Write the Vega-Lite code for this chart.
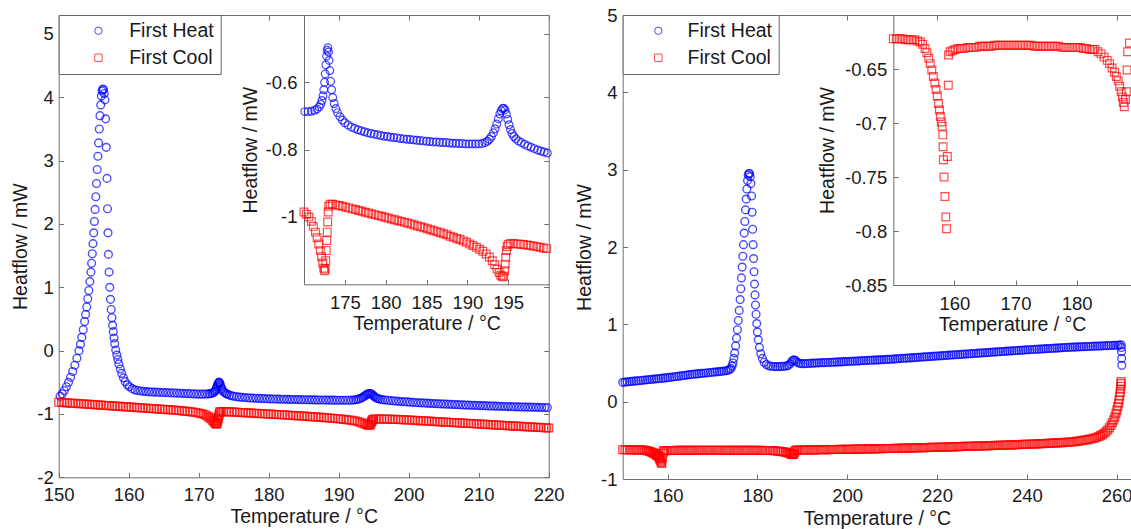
{
"$schema": "https://vega.github.io/schema/vega-lite/v6.json",
"width": 1131, "height": 529,
"autosize": {"type": "none"},
"padding": 0,
"background": "white",
"config": {
  "view": {"stroke": null},
  "font": "Liberation Sans",
  "axis": {"grid": false, "domainColor": "#707070", "tickColor": "#707070", "domainWidth": 1, "tickWidth": 1, "tickSize": -5,
    "labelFont": "Liberation Sans", "titleFont": "Liberation Sans", "labelFontSize": 18.5, "titleFontSize": 19.5, "titleFontWeight": "normal",
    "labelColor": "#1a1a1a", "titleColor": "#1a1a1a", "labelFlush": false, "labelOverlap": false, "labelBound": false}
},
"datasets": {
"left": [
{"t":150.2,"h":-0.72,"s":"Heat"},{"t":150.5,"h":-0.68,"s":"Heat"},{"t":150.8,"h":-0.63,"s":"Heat"},{"t":151.1,"h":-0.57,"s":"Heat"},{"t":151.4,"h":-0.5,"s":"Heat"},{"t":151.7,"h":-0.42,"s":"Heat"},{"t":152.0,"h":-0.33,"s":"Heat"},{"t":152.3,"h":-0.23,"s":"Heat"},{"t":152.6,"h":-0.12,"s":"Heat"},{"t":152.9,"h":0.0,"s":"Heat"},
{"t":153.1,"h":0.1,"s":"Heat"},{"t":153.3,"h":0.21,"s":"Heat"},{"t":153.5,"h":0.33,"s":"Heat"},{"t":153.7,"h":0.46,"s":"Heat"},{"t":153.85,"h":0.57,"s":"Heat"},{"t":154.0,"h":0.69,"s":"Heat"},{"t":154.15,"h":0.82,"s":"Heat"},{"t":154.3,"h":0.95,"s":"Heat"},{"t":154.45,"h":1.09,"s":"Heat"},{"t":154.6,"h":1.24,"s":"Heat"},
{"t":154.7,"h":1.38,"s":"Heat"},{"t":154.8,"h":1.53,"s":"Heat"},{"t":154.9,"h":1.69,"s":"Heat"},{"t":155.0,"h":1.86,"s":"Heat"},{"t":155.1,"h":2.04,"s":"Heat"},{"t":155.2,"h":2.23,"s":"Heat"},{"t":155.3,"h":2.43,"s":"Heat"},{"t":155.4,"h":2.64,"s":"Heat"},{"t":155.5,"h":2.86,"s":"Heat"},{"t":155.6,"h":3.07,"s":"Heat"},
{"t":155.7,"h":3.28,"s":"Heat"},{"t":155.8,"h":3.5,"s":"Heat"},{"t":155.9,"h":3.71,"s":"Heat"},{"t":156.0,"h":3.88,"s":"Heat"},{"t":156.1,"h":4.02,"s":"Heat"},{"t":156.2,"h":4.1,"s":"Heat"},{"t":156.3,"h":4.13,"s":"Heat"},{"t":156.4,"h":4.12,"s":"Heat"},{"t":156.5,"h":4.06,"s":"Heat"},{"t":156.6,"h":3.96,"s":"Heat"},
{"t":156.7,"h":3.66,"s":"Heat"},{"t":156.8,"h":3.21,"s":"Heat"},{"t":156.9,"h":2.72,"s":"Heat"},{"t":156.97,"h":2.24,"s":"Heat"},{"t":157.04,"h":1.86,"s":"Heat"},{"t":157.1,"h":1.52,"s":"Heat"},{"t":157.2,"h":1.24,"s":"Heat"},{"t":157.3,"h":1.0,"s":"Heat"},{"t":157.4,"h":0.81,"s":"Heat"},{"t":157.5,"h":0.65,"s":"Heat"},
{"t":157.6,"h":0.52,"s":"Heat"},{"t":157.7,"h":0.4,"s":"Heat"},{"t":157.8,"h":0.3,"s":"Heat"},{"t":157.9,"h":0.2,"s":"Heat"},{"t":158.0,"h":0.11,"s":"Heat"},{"t":158.15,"h":0.01,"s":"Heat"},{"t":158.3,"h":-0.07,"s":"Heat"},{"t":158.45,"h":-0.14,"s":"Heat"},{"t":158.6,"h":-0.21,"s":"Heat"},{"t":158.8,"h":-0.29,"s":"Heat"},
{"t":159.0,"h":-0.36,"s":"Heat"},{"t":159.25,"h":-0.43,"s":"Heat"},{"t":159.5,"h":-0.49,"s":"Heat"},{"t":159.8,"h":-0.54,"s":"Heat"},{"t":160.1,"h":-0.57,"s":"Heat"},{"t":160.5,"h":-0.6,"s":"Heat"},{"t":160.9,"h":-0.62,"s":"Heat"},{"t":161.3,"h":-0.63,"s":"Heat"},{"t":161.7,"h":-0.638,"s":"Heat"},{"t":162.1,"h":-0.643,"s":"Heat"},
{"t":162.5,"h":-0.647,"s":"Heat"},{"t":162.9,"h":-0.65,"s":"Heat"},{"t":163.3,"h":-0.653,"s":"Heat"},{"t":163.7,"h":-0.655,"s":"Heat"},{"t":164.1,"h":-0.657,"s":"Heat"},{"t":164.5,"h":-0.659,"s":"Heat"},{"t":164.9,"h":-0.661,"s":"Heat"},{"t":165.3,"h":-0.663,"s":"Heat"},{"t":165.7,"h":-0.665,"s":"Heat"},{"t":166.1,"h":-0.667,"s":"Heat"},
{"t":166.5,"h":-0.669,"s":"Heat"},{"t":166.9,"h":-0.671,"s":"Heat"},{"t":167.3,"h":-0.673,"s":"Heat"},{"t":167.7,"h":-0.675,"s":"Heat"},{"t":168.1,"h":-0.677,"s":"Heat"},{"t":168.5,"h":-0.679,"s":"Heat"},{"t":168.9,"h":-0.681,"s":"Heat"},{"t":169.3,"h":-0.683,"s":"Heat"},{"t":169.7,"h":-0.685,"s":"Heat"},{"t":170.1,"h":-0.687,"s":"Heat"},
{"t":170.5,"h":-0.687,"s":"Heat"},{"t":170.9,"h":-0.686,"s":"Heat"},{"t":171.3,"h":-0.683,"s":"Heat"},{"t":171.6,"h":-0.679,"s":"Heat"},{"t":171.85,"h":-0.673,"s":"Heat"},{"t":172.05,"h":-0.665,"s":"Heat"},{"t":172.2,"h":-0.654,"s":"Heat"},{"t":172.32,"h":-0.64,"s":"Heat"},{"t":172.42,"h":-0.622,"s":"Heat"},{"t":172.52,"h":-0.6,"s":"Heat"},
{"t":172.6,"h":-0.575,"s":"Heat"},{"t":172.68,"h":-0.548,"s":"Heat"},{"t":172.76,"h":-0.522,"s":"Heat"},{"t":172.84,"h":-0.505,"s":"Heat"},{"t":172.92,"h":-0.497,"s":"Heat"},{"t":173.0,"h":-0.51,"s":"Heat"},{"t":173.08,"h":-0.535,"s":"Heat"},{"t":173.16,"h":-0.565,"s":"Heat"},{"t":173.26,"h":-0.597,"s":"Heat"},{"t":173.38,"h":-0.622,"s":"Heat"},
{"t":173.52,"h":-0.645,"s":"Heat"},{"t":173.7,"h":-0.663,"s":"Heat"},{"t":173.9,"h":-0.678,"s":"Heat"},{"t":174.1,"h":-0.69,"s":"Heat"},{"t":174.4,"h":-0.702,"s":"Heat"},{"t":174.7,"h":-0.712,"s":"Heat"},{"t":175.0,"h":-0.72,"s":"Heat"},{"t":175.4,"h":-0.727,"s":"Heat"},{"t":175.8,"h":-0.733,"s":"Heat"},{"t":176.2,"h":-0.737,"s":"Heat"},
{"t":176.6,"h":-0.741,"s":"Heat"},{"t":177.0,"h":-0.744,"s":"Heat"},{"t":177.4,"h":-0.747,"s":"Heat"},{"t":177.8,"h":-0.75,"s":"Heat"},{"t":178.2,"h":-0.752,"s":"Heat"},{"t":178.6,"h":-0.754,"s":"Heat"},{"t":179.0,"h":-0.756,"s":"Heat"},{"t":179.4,"h":-0.758,"s":"Heat"},{"t":179.8,"h":-0.76,"s":"Heat"},{"t":180.2,"h":-0.761,"s":"Heat"},
{"t":180.6,"h":-0.763,"s":"Heat"},{"t":181.0,"h":-0.764,"s":"Heat"},{"t":181.4,"h":-0.765,"s":"Heat"},{"t":181.8,"h":-0.767,"s":"Heat"},{"t":182.2,"h":-0.768,"s":"Heat"},{"t":182.6,"h":-0.769,"s":"Heat"},{"t":183.0,"h":-0.77,"s":"Heat"},{"t":183.4,"h":-0.771,"s":"Heat"},{"t":183.8,"h":-0.772,"s":"Heat"},{"t":184.2,"h":-0.773,"s":"Heat"},
{"t":184.6,"h":-0.774,"s":"Heat"},{"t":185.0,"h":-0.775,"s":"Heat"},{"t":185.4,"h":-0.776,"s":"Heat"},{"t":185.8,"h":-0.777,"s":"Heat"},{"t":186.2,"h":-0.777,"s":"Heat"},{"t":186.6,"h":-0.778,"s":"Heat"},{"t":187.0,"h":-0.779,"s":"Heat"},{"t":187.4,"h":-0.779,"s":"Heat"},{"t":187.8,"h":-0.78,"s":"Heat"},{"t":188.2,"h":-0.781,"s":"Heat"},
{"t":188.6,"h":-0.781,"s":"Heat"},{"t":189.0,"h":-0.782,"s":"Heat"},{"t":189.4,"h":-0.782,"s":"Heat"},{"t":189.8,"h":-0.783,"s":"Heat"},{"t":190.2,"h":-0.783,"s":"Heat"},{"t":190.6,"h":-0.783,"s":"Heat"},{"t":191.0,"h":-0.783,"s":"Heat"},{"t":191.4,"h":-0.783,"s":"Heat"},{"t":191.8,"h":-0.782,"s":"Heat"},{"t":192.15,"h":-0.779,"s":"Heat"},
{"t":192.45,"h":-0.775,"s":"Heat"},{"t":192.7,"h":-0.769,"s":"Heat"},{"t":192.95,"h":-0.761,"s":"Heat"},{"t":193.2,"h":-0.75,"s":"Heat"},{"t":193.4,"h":-0.738,"s":"Heat"},{"t":193.6,"h":-0.724,"s":"Heat"},{"t":193.8,"h":-0.708,"s":"Heat"},{"t":193.98,"h":-0.694,"s":"Heat"},{"t":194.14,"h":-0.684,"s":"Heat"},{"t":194.3,"h":-0.678,"s":"Heat"},
{"t":194.46,"h":-0.677,"s":"Heat"},{"t":194.62,"h":-0.682,"s":"Heat"},{"t":194.78,"h":-0.694,"s":"Heat"},{"t":194.94,"h":-0.71,"s":"Heat"},{"t":195.1,"h":-0.726,"s":"Heat"},{"t":195.28,"h":-0.74,"s":"Heat"},{"t":195.48,"h":-0.752,"s":"Heat"},{"t":195.7,"h":-0.761,"s":"Heat"},{"t":195.95,"h":-0.768,"s":"Heat"},{"t":196.25,"h":-0.774,"s":"Heat"},
{"t":196.6,"h":-0.779,"s":"Heat"},{"t":197.0,"h":-0.784,"s":"Heat"},{"t":197.4,"h":-0.789,"s":"Heat"},{"t":197.8,"h":-0.793,"s":"Heat"},{"t":198.2,"h":-0.797,"s":"Heat"},{"t":198.6,"h":-0.801,"s":"Heat"},{"t":199.0,"h":-0.804,"s":"Heat"},{"t":199.4,"h":-0.807,"s":"Heat"},{"t":199.8,"h":-0.81,"s":"Heat"},{"t":200.2,"h":-0.813,"s":"Heat"},
{"t":200.6,"h":-0.816,"s":"Heat"},{"t":201.0,"h":-0.819,"s":"Heat"},{"t":201.4,"h":-0.822,"s":"Heat"},{"t":201.8,"h":-0.824,"s":"Heat"},{"t":202.2,"h":-0.827,"s":"Heat"},{"t":202.6,"h":-0.829,"s":"Heat"},{"t":203.0,"h":-0.832,"s":"Heat"},{"t":203.4,"h":-0.834,"s":"Heat"},{"t":203.8,"h":-0.836,"s":"Heat"},{"t":204.2,"h":-0.838,"s":"Heat"},
{"t":204.6,"h":-0.841,"s":"Heat"},{"t":205.0,"h":-0.843,"s":"Heat"},{"t":205.4,"h":-0.845,"s":"Heat"},{"t":205.8,"h":-0.847,"s":"Heat"},{"t":206.2,"h":-0.849,"s":"Heat"},{"t":206.6,"h":-0.851,"s":"Heat"},{"t":207.0,"h":-0.853,"s":"Heat"},{"t":207.4,"h":-0.855,"s":"Heat"},{"t":207.8,"h":-0.857,"s":"Heat"},{"t":208.2,"h":-0.859,"s":"Heat"},
{"t":208.6,"h":-0.861,"s":"Heat"},{"t":209.0,"h":-0.862,"s":"Heat"},{"t":209.4,"h":-0.864,"s":"Heat"},{"t":209.8,"h":-0.866,"s":"Heat"},{"t":210.2,"h":-0.868,"s":"Heat"},{"t":210.6,"h":-0.869,"s":"Heat"},{"t":211.0,"h":-0.871,"s":"Heat"},{"t":211.4,"h":-0.873,"s":"Heat"},{"t":211.8,"h":-0.874,"s":"Heat"},{"t":212.2,"h":-0.876,"s":"Heat"},
{"t":212.6,"h":-0.877,"s":"Heat"},{"t":213.0,"h":-0.879,"s":"Heat"},{"t":213.4,"h":-0.88,"s":"Heat"},{"t":213.8,"h":-0.882,"s":"Heat"},{"t":214.2,"h":-0.883,"s":"Heat"},{"t":214.6,"h":-0.885,"s":"Heat"},{"t":215.0,"h":-0.886,"s":"Heat"},{"t":215.4,"h":-0.887,"s":"Heat"},{"t":215.8,"h":-0.889,"s":"Heat"},{"t":216.2,"h":-0.89,"s":"Heat"},
{"t":216.6,"h":-0.891,"s":"Heat"},{"t":217.0,"h":-0.892,"s":"Heat"},{"t":217.4,"h":-0.893,"s":"Heat"},{"t":217.8,"h":-0.894,"s":"Heat"},{"t":218.2,"h":-0.895,"s":"Heat"},{"t":218.6,"h":-0.896,"s":"Heat"},{"t":219.0,"h":-0.897,"s":"Heat"},{"t":219.4,"h":-0.898,"s":"Heat"},{"t":219.8,"h":-0.899,"s":"Heat"},
{"t":150.0,"h":-0.815,"s":"Cool"},{"t":150.4,"h":-0.818,"s":"Cool"},{"t":150.8,"h":-0.821,"s":"Cool"},{"t":151.2,"h":-0.824,"s":"Cool"},{"t":151.6,"h":-0.827,"s":"Cool"},{"t":152.0,"h":-0.83,"s":"Cool"},{"t":152.4,"h":-0.833,"s":"Cool"},{"t":152.8,"h":-0.836,"s":"Cool"},{"t":153.2,"h":-0.839,"s":"Cool"},{"t":153.6,"h":-0.842,"s":"Cool"},
{"t":154.0,"h":-0.845,"s":"Cool"},{"t":154.4,"h":-0.848,"s":"Cool"},{"t":154.8,"h":-0.851,"s":"Cool"},{"t":155.2,"h":-0.854,"s":"Cool"},{"t":155.6,"h":-0.857,"s":"Cool"},{"t":156.0,"h":-0.86,"s":"Cool"},{"t":156.4,"h":-0.863,"s":"Cool"},{"t":156.8,"h":-0.866,"s":"Cool"},{"t":157.2,"h":-0.869,"s":"Cool"},{"t":157.6,"h":-0.872,"s":"Cool"},
{"t":158.0,"h":-0.875,"s":"Cool"},{"t":158.4,"h":-0.878,"s":"Cool"},{"t":158.8,"h":-0.881,"s":"Cool"},{"t":159.2,"h":-0.884,"s":"Cool"},{"t":159.6,"h":-0.887,"s":"Cool"},{"t":160.0,"h":-0.89,"s":"Cool"},{"t":160.4,"h":-0.893,"s":"Cool"},{"t":160.8,"h":-0.896,"s":"Cool"},{"t":161.2,"h":-0.899,"s":"Cool"},{"t":161.6,"h":-0.902,"s":"Cool"},
{"t":162.0,"h":-0.905,"s":"Cool"},{"t":162.4,"h":-0.908,"s":"Cool"},{"t":162.8,"h":-0.911,"s":"Cool"},{"t":163.2,"h":-0.914,"s":"Cool"},{"t":163.6,"h":-0.917,"s":"Cool"},{"t":164.0,"h":-0.92,"s":"Cool"},{"t":164.4,"h":-0.923,"s":"Cool"},{"t":164.8,"h":-0.926,"s":"Cool"},{"t":165.2,"h":-0.929,"s":"Cool"},{"t":165.6,"h":-0.932,"s":"Cool"},
{"t":166.0,"h":-0.935,"s":"Cool"},{"t":166.4,"h":-0.938,"s":"Cool"},{"t":166.8,"h":-0.942,"s":"Cool"},{"t":167.2,"h":-0.946,"s":"Cool"},{"t":167.6,"h":-0.95,"s":"Cool"},{"t":168.0,"h":-0.954,"s":"Cool"},{"t":168.4,"h":-0.959,"s":"Cool"},{"t":168.8,"h":-0.964,"s":"Cool"},{"t":169.2,"h":-0.97,"s":"Cool"},{"t":169.6,"h":-0.977,"s":"Cool"},
{"t":170.0,"h":-0.985,"s":"Cool"},{"t":170.3,"h":-0.992,"s":"Cool"},{"t":170.6,"h":-1.0,"s":"Cool"},{"t":170.9,"h":-1.013,"s":"Cool"},{"t":171.15,"h":-1.028,"s":"Cool"},{"t":171.4,"h":-1.045,"s":"Cool"},{"t":171.6,"h":-1.062,"s":"Cool"},{"t":171.8,"h":-1.08,"s":"Cool"},{"t":172.0,"h":-1.1,"s":"Cool"},{"t":172.15,"h":-1.118,"s":"Cool"},
{"t":172.3,"h":-1.137,"s":"Cool"},{"t":172.42,"h":-1.152,"s":"Cool"},{"t":172.52,"h":-1.16,"s":"Cool"},{"t":172.6,"h":-1.155,"s":"Cool"},{"t":172.66,"h":-1.13,"s":"Cool"},{"t":172.72,"h":-1.1,"s":"Cool"},{"t":172.78,"h":-1.07,"s":"Cool"},{"t":172.84,"h":-1.045,"s":"Cool"},{"t":172.9,"h":-1.015,"s":"Cool"},{"t":172.96,"h":-0.985,"s":"Cool"},
{"t":173.02,"h":-0.968,"s":"Cool"},{"t":173.2,"h":-0.962,"s":"Cool"},{"t":173.5,"h":-0.962,"s":"Cool"},{"t":173.9,"h":-0.964,"s":"Cool"},{"t":174.3,"h":-0.966,"s":"Cool"},{"t":174.7,"h":-0.968,"s":"Cool"},{"t":175.1,"h":-0.971,"s":"Cool"},{"t":175.5,"h":-0.973,"s":"Cool"},{"t":175.9,"h":-0.976,"s":"Cool"},{"t":176.3,"h":-0.978,"s":"Cool"},
{"t":176.7,"h":-0.981,"s":"Cool"},{"t":177.1,"h":-0.983,"s":"Cool"},{"t":177.5,"h":-0.986,"s":"Cool"},{"t":177.9,"h":-0.988,"s":"Cool"},{"t":178.3,"h":-0.991,"s":"Cool"},{"t":178.7,"h":-0.993,"s":"Cool"},{"t":179.1,"h":-0.996,"s":"Cool"},{"t":179.5,"h":-0.998,"s":"Cool"},{"t":179.9,"h":-1.001,"s":"Cool"},{"t":180.3,"h":-1.003,"s":"Cool"},
{"t":180.7,"h":-1.006,"s":"Cool"},{"t":181.1,"h":-1.008,"s":"Cool"},{"t":181.5,"h":-1.011,"s":"Cool"},{"t":181.9,"h":-1.013,"s":"Cool"},{"t":182.3,"h":-1.016,"s":"Cool"},{"t":182.7,"h":-1.018,"s":"Cool"},{"t":183.1,"h":-1.021,"s":"Cool"},{"t":183.5,"h":-1.024,"s":"Cool"},{"t":183.9,"h":-1.027,"s":"Cool"},{"t":184.3,"h":-1.029,"s":"Cool"},
{"t":184.7,"h":-1.032,"s":"Cool"},{"t":185.1,"h":-1.035,"s":"Cool"},{"t":185.5,"h":-1.038,"s":"Cool"},{"t":185.9,"h":-1.041,"s":"Cool"},{"t":186.3,"h":-1.044,"s":"Cool"},{"t":186.7,"h":-1.047,"s":"Cool"},{"t":187.1,"h":-1.05,"s":"Cool"},{"t":187.5,"h":-1.053,"s":"Cool"},{"t":187.9,"h":-1.057,"s":"Cool"},{"t":188.3,"h":-1.06,"s":"Cool"},
{"t":188.7,"h":-1.064,"s":"Cool"},{"t":189.1,"h":-1.067,"s":"Cool"},{"t":189.5,"h":-1.071,"s":"Cool"},{"t":189.9,"h":-1.075,"s":"Cool"},{"t":190.3,"h":-1.08,"s":"Cool"},{"t":190.7,"h":-1.085,"s":"Cool"},{"t":191.1,"h":-1.09,"s":"Cool"},{"t":191.5,"h":-1.096,"s":"Cool"},{"t":191.9,"h":-1.102,"s":"Cool"},{"t":192.3,"h":-1.11,"s":"Cool"},
{"t":192.7,"h":-1.119,"s":"Cool"},{"t":193.05,"h":-1.13,"s":"Cool"},{"t":193.35,"h":-1.142,"s":"Cool"},{"t":193.65,"h":-1.155,"s":"Cool"},{"t":193.9,"h":-1.165,"s":"Cool"},{"t":194.1,"h":-1.173,"s":"Cool"},{"t":194.3,"h":-1.178,"s":"Cool"},{"t":194.45,"h":-1.176,"s":"Cool"},{"t":194.55,"h":-1.16,"s":"Cool"},{"t":194.63,"h":-1.14,"s":"Cool"},
{"t":194.7,"h":-1.12,"s":"Cool"},{"t":194.78,"h":-1.1,"s":"Cool"},{"t":194.88,"h":-1.088,"s":"Cool"},{"t":195.0,"h":-1.082,"s":"Cool"},{"t":195.3,"h":-1.079,"s":"Cool"},{"t":195.7,"h":-1.079,"s":"Cool"},{"t":196.1,"h":-1.08,"s":"Cool"},{"t":196.5,"h":-1.081,"s":"Cool"},{"t":196.9,"h":-1.082,"s":"Cool"},{"t":197.3,"h":-1.083,"s":"Cool"},
{"t":197.7,"h":-1.085,"s":"Cool"},{"t":198.1,"h":-1.086,"s":"Cool"},{"t":198.5,"h":-1.088,"s":"Cool"},{"t":198.9,"h":-1.09,"s":"Cool"},{"t":199.3,"h":-1.092,"s":"Cool"},{"t":199.7,"h":-1.094,"s":"Cool"},{"t":200.1,"h":-1.096,"s":"Cool"},{"t":200.5,"h":-1.099,"s":"Cool"},{"t":200.9,"h":-1.101,"s":"Cool"},{"t":201.3,"h":-1.104,"s":"Cool"},
{"t":201.7,"h":-1.106,"s":"Cool"},{"t":202.1,"h":-1.109,"s":"Cool"},{"t":202.5,"h":-1.111,"s":"Cool"},{"t":202.9,"h":-1.114,"s":"Cool"},{"t":203.3,"h":-1.116,"s":"Cool"},{"t":203.7,"h":-1.119,"s":"Cool"},{"t":204.1,"h":-1.121,"s":"Cool"},{"t":204.5,"h":-1.124,"s":"Cool"},{"t":204.9,"h":-1.126,"s":"Cool"},{"t":205.3,"h":-1.129,"s":"Cool"},
{"t":205.7,"h":-1.131,"s":"Cool"},{"t":206.1,"h":-1.134,"s":"Cool"},{"t":206.5,"h":-1.136,"s":"Cool"},{"t":206.9,"h":-1.139,"s":"Cool"},{"t":207.3,"h":-1.141,"s":"Cool"},{"t":207.7,"h":-1.144,"s":"Cool"},{"t":208.1,"h":-1.146,"s":"Cool"},{"t":208.5,"h":-1.149,"s":"Cool"},{"t":208.9,"h":-1.151,"s":"Cool"},{"t":209.3,"h":-1.154,"s":"Cool"},
{"t":209.7,"h":-1.156,"s":"Cool"},{"t":210.1,"h":-1.159,"s":"Cool"},{"t":210.5,"h":-1.161,"s":"Cool"},{"t":210.9,"h":-1.164,"s":"Cool"},{"t":211.3,"h":-1.167,"s":"Cool"},{"t":211.7,"h":-1.169,"s":"Cool"},{"t":212.1,"h":-1.172,"s":"Cool"},{"t":212.5,"h":-1.174,"s":"Cool"},{"t":212.9,"h":-1.177,"s":"Cool"},{"t":213.3,"h":-1.179,"s":"Cool"},
{"t":213.7,"h":-1.182,"s":"Cool"},{"t":214.1,"h":-1.184,"s":"Cool"},{"t":214.5,"h":-1.187,"s":"Cool"},{"t":214.9,"h":-1.189,"s":"Cool"},{"t":215.3,"h":-1.192,"s":"Cool"},{"t":215.7,"h":-1.194,"s":"Cool"},{"t":216.1,"h":-1.197,"s":"Cool"},{"t":216.5,"h":-1.199,"s":"Cool"},{"t":216.9,"h":-1.202,"s":"Cool"},{"t":217.3,"h":-1.204,"s":"Cool"},
{"t":217.7,"h":-1.207,"s":"Cool"},{"t":218.1,"h":-1.209,"s":"Cool"},{"t":218.5,"h":-1.212,"s":"Cool"},{"t":218.9,"h":-1.214,"s":"Cool"},{"t":219.3,"h":-1.217,"s":"Cool"},{"t":219.7,"h":-1.219,"s":"Cool"},{"t":220.0,"h":-1.221,"s":"Cool"}
],
"right": [
{"t":150.0,"h":0.25,"s":"Heat"},{"t":150.5,"h":0.253,"s":"Heat"},{"t":151.0,"h":0.256,"s":"Heat"},{"t":151.5,"h":0.259,"s":"Heat"},{"t":152.0,"h":0.262,"s":"Heat"},{"t":152.5,"h":0.265,"s":"Heat"},{"t":153.0,"h":0.268,"s":"Heat"},{"t":153.5,"h":0.271,"s":"Heat"},{"t":154.0,"h":0.274,"s":"Heat"},{"t":154.5,"h":0.277,"s":"Heat"},
{"t":155.0,"h":0.28,"s":"Heat"},{"t":155.5,"h":0.283,"s":"Heat"},{"t":156.0,"h":0.286,"s":"Heat"},{"t":156.5,"h":0.289,"s":"Heat"},{"t":157.0,"h":0.292,"s":"Heat"},{"t":157.5,"h":0.295,"s":"Heat"},{"t":158.0,"h":0.298,"s":"Heat"},{"t":158.5,"h":0.301,"s":"Heat"},{"t":159.0,"h":0.304,"s":"Heat"},{"t":159.5,"h":0.307,"s":"Heat"},
{"t":160.0,"h":0.31,"s":"Heat"},{"t":160.5,"h":0.314,"s":"Heat"},{"t":161.0,"h":0.318,"s":"Heat"},{"t":161.5,"h":0.322,"s":"Heat"},{"t":162.0,"h":0.326,"s":"Heat"},{"t":162.5,"h":0.33,"s":"Heat"},{"t":163.0,"h":0.334,"s":"Heat"},{"t":163.5,"h":0.338,"s":"Heat"},{"t":164.0,"h":0.342,"s":"Heat"},{"t":164.5,"h":0.346,"s":"Heat"},
{"t":165.0,"h":0.35,"s":"Heat"},{"t":165.5,"h":0.353,"s":"Heat"},{"t":166.0,"h":0.356,"s":"Heat"},{"t":166.5,"h":0.359,"s":"Heat"},{"t":167.0,"h":0.362,"s":"Heat"},{"t":167.5,"h":0.365,"s":"Heat"},{"t":168.0,"h":0.368,"s":"Heat"},{"t":168.5,"h":0.371,"s":"Heat"},{"t":169.0,"h":0.374,"s":"Heat"},{"t":169.5,"h":0.377,"s":"Heat"},
{"t":170.0,"h":0.38,"s":"Heat"},{"t":170.5,"h":0.383,"s":"Heat"},{"t":171.0,"h":0.386,"s":"Heat"},{"t":171.5,"h":0.389,"s":"Heat"},{"t":172.0,"h":0.392,"s":"Heat"},{"t":172.5,"h":0.396,"s":"Heat"},{"t":173.0,"h":0.4,"s":"Heat"},{"t":173.4,"h":0.405,"s":"Heat"},{"t":173.8,"h":0.415,"s":"Heat"},{"t":174.1,"h":0.43,"s":"Heat"},
{"t":174.35,"h":0.46,"s":"Heat"},{"t":174.55,"h":0.5,"s":"Heat"},{"t":174.75,"h":0.56,"s":"Heat"},{"t":174.95,"h":0.63,"s":"Heat"},{"t":175.15,"h":0.72,"s":"Heat"},{"t":175.35,"h":0.82,"s":"Heat"},{"t":175.55,"h":0.93,"s":"Heat"},{"t":175.75,"h":1.05,"s":"Heat"},{"t":175.95,"h":1.18,"s":"Heat"},{"t":176.15,"h":1.32,"s":"Heat"},
{"t":176.3,"h":1.46,"s":"Heat"},{"t":176.45,"h":1.6,"s":"Heat"},{"t":176.6,"h":1.74,"s":"Heat"},{"t":176.75,"h":1.88,"s":"Heat"},{"t":176.9,"h":2.03,"s":"Heat"},{"t":177.05,"h":2.18,"s":"Heat"},{"t":177.2,"h":2.33,"s":"Heat"},{"t":177.35,"h":2.48,"s":"Heat"},{"t":177.5,"h":2.62,"s":"Heat"},{"t":177.65,"h":2.75,"s":"Heat"},
{"t":177.8,"h":2.86,"s":"Heat"},{"t":177.95,"h":2.93,"s":"Heat"},{"t":178.1,"h":2.95,"s":"Heat"},{"t":178.25,"h":2.95,"s":"Heat"},{"t":178.4,"h":2.91,"s":"Heat"},{"t":178.55,"h":2.82,"s":"Heat"},{"t":178.7,"h":2.66,"s":"Heat"},{"t":178.82,"h":2.45,"s":"Heat"},{"t":178.94,"h":2.23,"s":"Heat"},{"t":179.05,"h":2.03,"s":"Heat"},
{"t":179.15,"h":1.85,"s":"Heat"},{"t":179.25,"h":1.68,"s":"Heat"},{"t":179.35,"h":1.52,"s":"Heat"},{"t":179.45,"h":1.38,"s":"Heat"},{"t":179.57,"h":1.25,"s":"Heat"},{"t":179.7,"h":1.13,"s":"Heat"},{"t":179.85,"h":1.01,"s":"Heat"},{"t":180.0,"h":0.9,"s":"Heat"},{"t":180.2,"h":0.8,"s":"Heat"},{"t":180.45,"h":0.7,"s":"Heat"},
{"t":180.75,"h":0.62,"s":"Heat"},{"t":181.1,"h":0.56,"s":"Heat"},{"t":181.5,"h":0.51,"s":"Heat"},{"t":182.0,"h":0.48,"s":"Heat"},{"t":182.5,"h":0.465,"s":"Heat"},{"t":183.0,"h":0.458,"s":"Heat"},{"t":183.5,"h":0.455,"s":"Heat"},{"t":184.0,"h":0.453,"s":"Heat"},{"t":184.5,"h":0.453,"s":"Heat"},{"t":185.0,"h":0.454,"s":"Heat"},
{"t":185.5,"h":0.456,"s":"Heat"},{"t":186.0,"h":0.458,"s":"Heat"},{"t":186.5,"h":0.462,"s":"Heat"},{"t":186.9,"h":0.47,"s":"Heat"},{"t":187.3,"h":0.49,"s":"Heat"},{"t":187.6,"h":0.515,"s":"Heat"},{"t":187.9,"h":0.535,"s":"Heat"},{"t":188.2,"h":0.54,"s":"Heat"},{"t":188.5,"h":0.53,"s":"Heat"},{"t":188.8,"h":0.512,"s":"Heat"},
{"t":189.2,"h":0.498,"s":"Heat"},{"t":189.7,"h":0.492,"s":"Heat"},{"t":190.2,"h":0.491,"s":"Heat"},{"t":190.7,"h":0.492,"s":"Heat"},{"t":191.2,"h":0.494,"s":"Heat"},{"t":191.7,"h":0.496,"s":"Heat"},{"t":192.2,"h":0.498,"s":"Heat"},{"t":192.7,"h":0.499,"s":"Heat"},{"t":193.2,"h":0.5,"s":"Heat"},{"t":193.7,"h":0.502,"s":"Heat"},
{"t":194.2,"h":0.503,"s":"Heat"},{"t":194.7,"h":0.504,"s":"Heat"},{"t":195.2,"h":0.506,"s":"Heat"},{"t":195.7,"h":0.507,"s":"Heat"},{"t":196.2,"h":0.508,"s":"Heat"},{"t":196.7,"h":0.51,"s":"Heat"},{"t":197.2,"h":0.511,"s":"Heat"},{"t":197.7,"h":0.513,"s":"Heat"},{"t":198.2,"h":0.514,"s":"Heat"},{"t":198.7,"h":0.515,"s":"Heat"},
{"t":199.2,"h":0.517,"s":"Heat"},{"t":199.7,"h":0.518,"s":"Heat"},{"t":200.2,"h":0.52,"s":"Heat"},{"t":200.7,"h":0.522,"s":"Heat"},{"t":201.2,"h":0.523,"s":"Heat"},{"t":201.7,"h":0.525,"s":"Heat"},{"t":202.2,"h":0.526,"s":"Heat"},{"t":202.7,"h":0.528,"s":"Heat"},{"t":203.2,"h":0.529,"s":"Heat"},{"t":203.7,"h":0.531,"s":"Heat"},
{"t":204.2,"h":0.532,"s":"Heat"},{"t":204.7,"h":0.534,"s":"Heat"},{"t":205.2,"h":0.535,"s":"Heat"},{"t":205.7,"h":0.537,"s":"Heat"},{"t":206.2,"h":0.538,"s":"Heat"},{"t":206.7,"h":0.54,"s":"Heat"},{"t":207.2,"h":0.541,"s":"Heat"},{"t":207.7,"h":0.543,"s":"Heat"},{"t":208.2,"h":0.544,"s":"Heat"},{"t":208.7,"h":0.546,"s":"Heat"},
{"t":209.2,"h":0.547,"s":"Heat"},{"t":209.7,"h":0.549,"s":"Heat"},{"t":210.2,"h":0.551,"s":"Heat"},{"t":210.7,"h":0.553,"s":"Heat"},{"t":211.2,"h":0.555,"s":"Heat"},{"t":211.7,"h":0.557,"s":"Heat"},{"t":212.2,"h":0.559,"s":"Heat"},{"t":212.7,"h":0.561,"s":"Heat"},{"t":213.2,"h":0.563,"s":"Heat"},{"t":213.7,"h":0.565,"s":"Heat"},
{"t":214.2,"h":0.567,"s":"Heat"},{"t":214.7,"h":0.569,"s":"Heat"},{"t":215.2,"h":0.571,"s":"Heat"},{"t":215.7,"h":0.573,"s":"Heat"},{"t":216.2,"h":0.575,"s":"Heat"},{"t":216.7,"h":0.577,"s":"Heat"},{"t":217.2,"h":0.579,"s":"Heat"},{"t":217.7,"h":0.581,"s":"Heat"},{"t":218.2,"h":0.583,"s":"Heat"},{"t":218.7,"h":0.585,"s":"Heat"},
{"t":219.2,"h":0.587,"s":"Heat"},{"t":219.7,"h":0.589,"s":"Heat"},{"t":220.2,"h":0.591,"s":"Heat"},{"t":220.7,"h":0.593,"s":"Heat"},{"t":221.2,"h":0.595,"s":"Heat"},{"t":221.7,"h":0.597,"s":"Heat"},{"t":222.2,"h":0.599,"s":"Heat"},{"t":222.7,"h":0.601,"s":"Heat"},{"t":223.2,"h":0.603,"s":"Heat"},{"t":223.7,"h":0.605,"s":"Heat"},
{"t":224.2,"h":0.607,"s":"Heat"},{"t":224.7,"h":0.609,"s":"Heat"},{"t":225.2,"h":0.611,"s":"Heat"},{"t":225.7,"h":0.613,"s":"Heat"},{"t":226.2,"h":0.615,"s":"Heat"},{"t":226.7,"h":0.617,"s":"Heat"},{"t":227.2,"h":0.619,"s":"Heat"},{"t":227.7,"h":0.621,"s":"Heat"},{"t":228.2,"h":0.623,"s":"Heat"},{"t":228.7,"h":0.625,"s":"Heat"},
{"t":229.2,"h":0.627,"s":"Heat"},{"t":229.7,"h":0.629,"s":"Heat"},{"t":230.2,"h":0.631,"s":"Heat"},{"t":230.7,"h":0.633,"s":"Heat"},{"t":231.2,"h":0.635,"s":"Heat"},{"t":231.7,"h":0.637,"s":"Heat"},{"t":232.2,"h":0.639,"s":"Heat"},{"t":232.7,"h":0.641,"s":"Heat"},{"t":233.2,"h":0.643,"s":"Heat"},{"t":233.7,"h":0.645,"s":"Heat"},
{"t":234.2,"h":0.647,"s":"Heat"},{"t":234.7,"h":0.649,"s":"Heat"},{"t":235.2,"h":0.651,"s":"Heat"},{"t":235.7,"h":0.653,"s":"Heat"},{"t":236.2,"h":0.655,"s":"Heat"},{"t":236.7,"h":0.657,"s":"Heat"},{"t":237.2,"h":0.659,"s":"Heat"},{"t":237.7,"h":0.661,"s":"Heat"},{"t":238.2,"h":0.663,"s":"Heat"},{"t":238.7,"h":0.665,"s":"Heat"},
{"t":239.2,"h":0.667,"s":"Heat"},{"t":239.7,"h":0.669,"s":"Heat"},{"t":240.2,"h":0.671,"s":"Heat"},{"t":240.7,"h":0.672,"s":"Heat"},{"t":241.2,"h":0.674,"s":"Heat"},{"t":241.7,"h":0.676,"s":"Heat"},{"t":242.2,"h":0.678,"s":"Heat"},{"t":242.7,"h":0.679,"s":"Heat"},{"t":243.2,"h":0.681,"s":"Heat"},{"t":243.7,"h":0.683,"s":"Heat"},
{"t":244.2,"h":0.685,"s":"Heat"},{"t":244.7,"h":0.686,"s":"Heat"},{"t":245.2,"h":0.688,"s":"Heat"},{"t":245.7,"h":0.69,"s":"Heat"},{"t":246.2,"h":0.692,"s":"Heat"},{"t":246.7,"h":0.693,"s":"Heat"},{"t":247.2,"h":0.695,"s":"Heat"},{"t":247.7,"h":0.697,"s":"Heat"},{"t":248.2,"h":0.699,"s":"Heat"},{"t":248.7,"h":0.7,"s":"Heat"},
{"t":249.2,"h":0.702,"s":"Heat"},{"t":249.7,"h":0.704,"s":"Heat"},{"t":250.2,"h":0.705,"s":"Heat"},{"t":250.7,"h":0.706,"s":"Heat"},{"t":251.2,"h":0.708,"s":"Heat"},{"t":251.7,"h":0.709,"s":"Heat"},{"t":252.2,"h":0.71,"s":"Heat"},{"t":252.7,"h":0.711,"s":"Heat"},{"t":253.2,"h":0.713,"s":"Heat"},{"t":253.7,"h":0.714,"s":"Heat"},
{"t":254.2,"h":0.715,"s":"Heat"},{"t":254.7,"h":0.716,"s":"Heat"},{"t":255.2,"h":0.718,"s":"Heat"},{"t":255.7,"h":0.719,"s":"Heat"},{"t":256.2,"h":0.72,"s":"Heat"},{"t":256.7,"h":0.721,"s":"Heat"},{"t":257.2,"h":0.723,"s":"Heat"},{"t":257.7,"h":0.724,"s":"Heat"},{"t":258.2,"h":0.725,"s":"Heat"},{"t":258.7,"h":0.726,"s":"Heat"},
{"t":259.2,"h":0.728,"s":"Heat"},{"t":259.7,"h":0.729,"s":"Heat"},{"t":260.2,"h":0.73,"s":"Heat"},{"t":260.6,"h":0.732,"s":"Heat"},{"t":261.0,"h":0.735,"s":"Heat"},{"t":261.05,"h":0.7,"s":"Heat"},{"t":261.1,"h":0.645,"s":"Heat"},{"t":261.12,"h":0.56,"s":"Heat"},{"t":261.15,"h":0.47,"s":"Heat"},
{"t":150.0,"h":-0.622,"s":"Cool"},{"t":150.5,"h":-0.622,"s":"Cool"},{"t":151.0,"h":-0.622,"s":"Cool"},{"t":151.5,"h":-0.622,"s":"Cool"},{"t":152.0,"h":-0.623,"s":"Cool"},{"t":152.5,"h":-0.623,"s":"Cool"},{"t":153.0,"h":-0.623,"s":"Cool"},{"t":153.5,"h":-0.623,"s":"Cool"},{"t":154.0,"h":-0.624,"s":"Cool"},{"t":154.4,"h":-0.625,"s":"Cool"},
{"t":154.8,"h":-0.627,"s":"Cool"},{"t":155.2,"h":-0.631,"s":"Cool"},{"t":155.5,"h":-0.635,"s":"Cool"},{"t":155.8,"h":-0.64,"s":"Cool"},{"t":156.05,"h":-0.645,"s":"Cool"},{"t":156.3,"h":-0.651,"s":"Cool"},{"t":156.55,"h":-0.657,"s":"Cool"},{"t":156.8,"h":-0.663,"s":"Cool"},{"t":157.0,"h":-0.669,"s":"Cool"},{"t":157.2,"h":-0.675,"s":"Cool"},
{"t":157.4,"h":-0.682,"s":"Cool"},{"t":157.55,"h":-0.688,"s":"Cool"},{"t":157.7,"h":-0.694,"s":"Cool"},{"t":157.85,"h":-0.699,"s":"Cool"},{"t":158.0,"h":-0.703,"s":"Cool"},{"t":158.1,"h":-0.711,"s":"Cool"},{"t":158.15,"h":-0.722,"s":"Cool"},{"t":158.2,"h":-0.734,"s":"Cool"},{"t":158.3,"h":-0.75,"s":"Cool"},{"t":158.45,"h":-0.768,"s":"Cool"},
{"t":158.6,"h":-0.787,"s":"Cool"},{"t":158.7,"h":-0.798,"s":"Cool"},{"t":158.85,"h":-0.731,"s":"Cool"},{"t":159.0,"h":-0.665,"s":"Cool"},{"t":159.05,"h":-0.637,"s":"Cool"},{"t":159.3,"h":-0.634,"s":"Cool"},{"t":159.7,"h":-0.633,"s":"Cool"},{"t":160.1,"h":-0.632,"s":"Cool"},{"t":160.6,"h":-0.631,"s":"Cool"},{"t":161.1,"h":-0.631,"s":"Cool"},
{"t":161.6,"h":-0.631,"s":"Cool"},{"t":162.1,"h":-0.63,"s":"Cool"},{"t":162.6,"h":-0.63,"s":"Cool"},{"t":163.1,"h":-0.63,"s":"Cool"},{"t":163.6,"h":-0.63,"s":"Cool"},{"t":164.1,"h":-0.629,"s":"Cool"},{"t":164.6,"h":-0.629,"s":"Cool"},{"t":165.1,"h":-0.629,"s":"Cool"},{"t":165.6,"h":-0.629,"s":"Cool"},{"t":166.1,"h":-0.629,"s":"Cool"},
{"t":166.6,"h":-0.628,"s":"Cool"},{"t":167.1,"h":-0.628,"s":"Cool"},{"t":167.6,"h":-0.628,"s":"Cool"},{"t":168.1,"h":-0.628,"s":"Cool"},{"t":168.6,"h":-0.628,"s":"Cool"},{"t":169.1,"h":-0.628,"s":"Cool"},{"t":169.6,"h":-0.628,"s":"Cool"},{"t":170.1,"h":-0.628,"s":"Cool"},{"t":170.6,"h":-0.628,"s":"Cool"},{"t":171.1,"h":-0.628,"s":"Cool"},
{"t":171.6,"h":-0.628,"s":"Cool"},{"t":172.1,"h":-0.628,"s":"Cool"},{"t":172.6,"h":-0.628,"s":"Cool"},{"t":173.1,"h":-0.629,"s":"Cool"},{"t":173.6,"h":-0.629,"s":"Cool"},{"t":174.1,"h":-0.629,"s":"Cool"},{"t":174.6,"h":-0.629,"s":"Cool"},{"t":175.1,"h":-0.629,"s":"Cool"},{"t":175.6,"h":-0.629,"s":"Cool"},{"t":176.1,"h":-0.629,"s":"Cool"},
{"t":176.6,"h":-0.629,"s":"Cool"},{"t":177.1,"h":-0.629,"s":"Cool"},{"t":177.6,"h":-0.63,"s":"Cool"},{"t":178.1,"h":-0.63,"s":"Cool"},{"t":178.6,"h":-0.63,"s":"Cool"},{"t":179.1,"h":-0.63,"s":"Cool"},{"t":179.6,"h":-0.63,"s":"Cool"},{"t":180.1,"h":-0.63,"s":"Cool"},{"t":180.6,"h":-0.63,"s":"Cool"},{"t":181.1,"h":-0.631,"s":"Cool"},
{"t":181.6,"h":-0.631,"s":"Cool"},{"t":182.1,"h":-0.632,"s":"Cool"},{"t":182.6,"h":-0.632,"s":"Cool"},{"t":183.0,"h":-0.632,"s":"Cool"},{"t":183.5,"h":-0.634,"s":"Cool"},{"t":184.0,"h":-0.636,"s":"Cool"},{"t":184.5,"h":-0.639,"s":"Cool"},{"t":185.0,"h":-0.642,"s":"Cool"},{"t":185.4,"h":-0.645,"s":"Cool"},{"t":185.8,"h":-0.649,"s":"Cool"},
{"t":186.2,"h":-0.653,"s":"Cool"},{"t":186.5,"h":-0.657,"s":"Cool"},{"t":186.8,"h":-0.661,"s":"Cool"},{"t":187.05,"h":-0.666,"s":"Cool"},{"t":187.3,"h":-0.671,"s":"Cool"},{"t":187.5,"h":-0.676,"s":"Cool"},{"t":187.65,"h":-0.681,"s":"Cool"},{"t":187.8,"h":-0.685,"s":"Cool"},{"t":188.0,"h":-0.678,"s":"Cool"},{"t":188.15,"h":-0.671,"s":"Cool"},
{"t":188.25,"h":-0.651,"s":"Cool"},{"t":188.35,"h":-0.634,"s":"Cool"},{"t":188.65,"h":-0.626,"s":"Cool"},{"t":189.0,"h":-0.625,"s":"Cool"},{"t":189.5,"h":-0.625,"s":"Cool"},{"t":190.0,"h":-0.625,"s":"Cool"},{"t":190.5,"h":-0.625,"s":"Cool"},{"t":191.0,"h":-0.624,"s":"Cool"},{"t":191.5,"h":-0.624,"s":"Cool"},{"t":192.0,"h":-0.623,"s":"Cool"},
{"t":192.5,"h":-0.623,"s":"Cool"},{"t":193.0,"h":-0.623,"s":"Cool"},{"t":193.5,"h":-0.622,"s":"Cool"},{"t":194.0,"h":-0.622,"s":"Cool"},{"t":194.5,"h":-0.621,"s":"Cool"},{"t":195.0,"h":-0.621,"s":"Cool"},{"t":195.5,"h":-0.62,"s":"Cool"},{"t":196.0,"h":-0.62,"s":"Cool"},{"t":196.5,"h":-0.619,"s":"Cool"},{"t":197.0,"h":-0.619,"s":"Cool"},
{"t":197.5,"h":-0.618,"s":"Cool"},{"t":198.0,"h":-0.618,"s":"Cool"},{"t":198.5,"h":-0.617,"s":"Cool"},{"t":199.0,"h":-0.617,"s":"Cool"},{"t":199.5,"h":-0.616,"s":"Cool"},{"t":200.0,"h":-0.616,"s":"Cool"},{"t":200.5,"h":-0.615,"s":"Cool"},{"t":201.0,"h":-0.615,"s":"Cool"},{"t":201.5,"h":-0.614,"s":"Cool"},{"t":202.0,"h":-0.614,"s":"Cool"},
{"t":202.5,"h":-0.613,"s":"Cool"},{"t":203.0,"h":-0.613,"s":"Cool"},{"t":203.5,"h":-0.612,"s":"Cool"},{"t":204.0,"h":-0.612,"s":"Cool"},{"t":204.5,"h":-0.611,"s":"Cool"},{"t":205.0,"h":-0.611,"s":"Cool"},{"t":205.5,"h":-0.61,"s":"Cool"},{"t":206.0,"h":-0.61,"s":"Cool"},{"t":206.5,"h":-0.609,"s":"Cool"},{"t":207.0,"h":-0.608,"s":"Cool"},
{"t":207.5,"h":-0.608,"s":"Cool"},{"t":208.0,"h":-0.607,"s":"Cool"},{"t":208.5,"h":-0.606,"s":"Cool"},{"t":209.0,"h":-0.606,"s":"Cool"},{"t":209.5,"h":-0.605,"s":"Cool"},{"t":210.0,"h":-0.605,"s":"Cool"},{"t":210.5,"h":-0.604,"s":"Cool"},{"t":211.0,"h":-0.603,"s":"Cool"},{"t":211.5,"h":-0.603,"s":"Cool"},{"t":212.0,"h":-0.602,"s":"Cool"},
{"t":212.5,"h":-0.601,"s":"Cool"},{"t":213.0,"h":-0.6,"s":"Cool"},{"t":213.5,"h":-0.6,"s":"Cool"},{"t":214.0,"h":-0.599,"s":"Cool"},{"t":214.5,"h":-0.598,"s":"Cool"},{"t":215.0,"h":-0.598,"s":"Cool"},{"t":215.5,"h":-0.597,"s":"Cool"},{"t":216.0,"h":-0.596,"s":"Cool"},{"t":216.5,"h":-0.595,"s":"Cool"},{"t":217.0,"h":-0.595,"s":"Cool"},
{"t":217.5,"h":-0.594,"s":"Cool"},{"t":218.0,"h":-0.593,"s":"Cool"},{"t":218.5,"h":-0.592,"s":"Cool"},{"t":219.0,"h":-0.591,"s":"Cool"},{"t":219.5,"h":-0.591,"s":"Cool"},{"t":220.0,"h":-0.59,"s":"Cool"},{"t":220.5,"h":-0.589,"s":"Cool"},{"t":221.0,"h":-0.588,"s":"Cool"},{"t":221.5,"h":-0.587,"s":"Cool"},{"t":222.0,"h":-0.586,"s":"Cool"},
{"t":222.5,"h":-0.585,"s":"Cool"},{"t":223.0,"h":-0.585,"s":"Cool"},{"t":223.5,"h":-0.584,"s":"Cool"},{"t":224.0,"h":-0.583,"s":"Cool"},{"t":224.5,"h":-0.582,"s":"Cool"},{"t":225.0,"h":-0.581,"s":"Cool"},{"t":225.5,"h":-0.58,"s":"Cool"},{"t":226.0,"h":-0.579,"s":"Cool"},{"t":226.5,"h":-0.578,"s":"Cool"},{"t":227.0,"h":-0.577,"s":"Cool"},
{"t":227.5,"h":-0.576,"s":"Cool"},{"t":228.0,"h":-0.576,"s":"Cool"},{"t":228.5,"h":-0.575,"s":"Cool"},{"t":229.0,"h":-0.574,"s":"Cool"},{"t":229.5,"h":-0.573,"s":"Cool"},{"t":230.0,"h":-0.572,"s":"Cool"},{"t":230.5,"h":-0.571,"s":"Cool"},{"t":231.0,"h":-0.57,"s":"Cool"},{"t":231.5,"h":-0.569,"s":"Cool"},{"t":232.0,"h":-0.568,"s":"Cool"},
{"t":232.5,"h":-0.567,"s":"Cool"},{"t":233.0,"h":-0.566,"s":"Cool"},{"t":233.5,"h":-0.565,"s":"Cool"},{"t":234.0,"h":-0.564,"s":"Cool"},{"t":234.5,"h":-0.563,"s":"Cool"},{"t":235.0,"h":-0.562,"s":"Cool"},{"t":235.5,"h":-0.561,"s":"Cool"},{"t":236.0,"h":-0.56,"s":"Cool"},{"t":236.5,"h":-0.559,"s":"Cool"},{"t":237.0,"h":-0.558,"s":"Cool"},
{"t":237.5,"h":-0.557,"s":"Cool"},{"t":238.0,"h":-0.555,"s":"Cool"},{"t":238.5,"h":-0.554,"s":"Cool"},{"t":239.0,"h":-0.553,"s":"Cool"},{"t":239.5,"h":-0.552,"s":"Cool"},{"t":240.0,"h":-0.551,"s":"Cool"},{"t":240.5,"h":-0.55,"s":"Cool"},{"t":241.0,"h":-0.548,"s":"Cool"},{"t":241.5,"h":-0.547,"s":"Cool"},{"t":242.0,"h":-0.546,"s":"Cool"},
{"t":242.5,"h":-0.545,"s":"Cool"},{"t":243.0,"h":-0.543,"s":"Cool"},{"t":243.5,"h":-0.542,"s":"Cool"},{"t":244.0,"h":-0.541,"s":"Cool"},{"t":244.5,"h":-0.539,"s":"Cool"},{"t":245.0,"h":-0.538,"s":"Cool"},{"t":245.5,"h":-0.536,"s":"Cool"},{"t":246.0,"h":-0.535,"s":"Cool"},{"t":246.5,"h":-0.533,"s":"Cool"},{"t":247.0,"h":-0.532,"s":"Cool"},
{"t":247.5,"h":-0.53,"s":"Cool"},{"t":248.0,"h":-0.529,"s":"Cool"},{"t":248.5,"h":-0.527,"s":"Cool"},{"t":249.0,"h":-0.525,"s":"Cool"},{"t":249.5,"h":-0.524,"s":"Cool"},{"t":250.0,"h":-0.522,"s":"Cool"},{"t":250.5,"h":-0.518,"s":"Cool"},{"t":251.0,"h":-0.514,"s":"Cool"},{"t":251.5,"h":-0.51,"s":"Cool"},{"t":252.0,"h":-0.505,"s":"Cool"},
{"t":252.5,"h":-0.501,"s":"Cool"},{"t":253.0,"h":-0.496,"s":"Cool"},{"t":253.5,"h":-0.491,"s":"Cool"},{"t":254.0,"h":-0.485,"s":"Cool"},{"t":254.5,"h":-0.479,"s":"Cool"},{"t":255.0,"h":-0.472,"s":"Cool"},{"t":255.5,"h":-0.464,"s":"Cool"},{"t":256.0,"h":-0.451,"s":"Cool"},{"t":256.4,"h":-0.44,"s":"Cool"},{"t":256.8,"h":-0.427,"s":"Cool"},
{"t":257.2,"h":-0.41,"s":"Cool"},{"t":257.6,"h":-0.39,"s":"Cool"},{"t":258.0,"h":-0.366,"s":"Cool"},{"t":258.4,"h":-0.338,"s":"Cool"},{"t":258.75,"h":-0.306,"s":"Cool"},{"t":259.05,"h":-0.272,"s":"Cool"},{"t":259.35,"h":-0.235,"s":"Cool"},{"t":259.6,"h":-0.196,"s":"Cool"},{"t":259.85,"h":-0.152,"s":"Cool"},{"t":260.05,"h":-0.11,"s":"Cool"},
{"t":260.25,"h":-0.065,"s":"Cool"},{"t":260.42,"h":-0.02,"s":"Cool"},{"t":260.56,"h":0.025,"s":"Cool"},{"t":260.68,"h":0.07,"s":"Cool"},{"t":260.78,"h":0.115,"s":"Cool"},{"t":260.86,"h":0.16,"s":"Cool"},{"t":260.92,"h":0.2,"s":"Cool"},{"t":260.97,"h":0.235,"s":"Cool"},{"t":261.0,"h":0.26,"s":"Cool"}
]
},
"layer": [
{
  "data": {"name": "left"},
  "mark": {"type": "point", "filled": false, "size": 60, "strokeWidth": 1.4},
  "encoding": {
    "x": {"field": "t", "type": "quantitative", "scale": {"domain": [150, 220], "range": [58.7, 548.7], "nice": false, "zero": false},
      "axis": {"orient": "bottom", "offset": -51.7, "values": [150,160,170,180,190,200,210,220], "title": "Temperature / °C", "labelPadding": 13, "titlePadding": 4}},
    "y": {"field": "h", "type": "quantitative", "scale": {"domain": [-2, 5.3], "range": [477.3, 15], "nice": false, "zero": false},
      "axis": {"orient": "left", "offset": -58.7, "values": [-2,-1,0,1,2,3,4,5], "labelExpr": "'' + datum.value", "title": "Heatflow / mW", "labelPadding": 10.5, "titlePadding": 6}},
    "color": {"field": "s", "type": "nominal", "scale": {"domain": ["Heat", "Cool"], "range": ["#0000ff", "#ff0000"]},
      "legend": {"title": null, "orient": "none", "legendX": 58.7, "legendY": 15, "padding": 6, "rowPadding": 6, "strokeColor": "#666666", "fillColor": "white", "labelFontSize": 19.5, "labelColor": "#1a1a1a", "labelExpr": "'First ' + datum.label", "symbolSize": 55, "symbolStrokeWidth": 1, "symbolOffset": 24, "labelOffset": 21}},
    "shape": {"field": "s", "type": "nominal", "scale": {"domain": ["Heat", "Cool"], "range": ["circle", "square"]},
      "legend": {"title": null, "orient": "none", "legendX": 58.7, "legendY": 15, "padding": 6, "rowPadding": 6, "strokeColor": "#666666", "fillColor": "white", "labelFontSize": 19.5, "labelColor": "#1a1a1a", "labelExpr": "'First ' + datum.label", "symbolSize": 55, "symbolStrokeWidth": 1, "symbolOffset": 24, "labelOffset": 21}}
  }
},
{
  "data": {"name": "left"},
  "transform": [{"filter": {"field": "t", "range": [219, 220]}}],
  "mark": {"type": "point", "opacity": 0},
  "encoding": {
    "x": {"field": "t", "type": "quantitative", "scale": {"domain": [150, 220], "range": [58.7, 548.7], "nice": false, "zero": false},
      "axis": {"orient": "top", "offset": -15, "values": [150,160,170,180,190,200,210,220], "labels": false, "title": null}},
    "y": {"field": "h", "type": "quantitative", "scale": {"domain": [-2, 5.3], "range": [477.3, 15], "nice": false, "zero": false},
      "axis": {"orient": "right", "offset": -582.3, "values": [-2,-1,0,1,2,3,4,5], "labels": false, "title": null}}
  }
},
{
  "data": {"name": "left"},
  "transform": [{"filter": {"field": "t", "range": [170, 200]}}, {"filter": {"field": "h", "range": [-1.2, -0.4]}}],
  "mark": {"type": "point", "filled": false, "size": 60, "strokeWidth": 1.2},
  "encoding": {
    "x": {"field": "t", "type": "quantitative", "scale": {"domain": [170, 200], "range": [304, 549], "nice": false, "zero": false},
      "axis": {"orient": "bottom", "offset": -244.7, "values": [175,180,185,190,195], "title": "Temperature / °C", "labelPadding": 14.5, "titlePadding": 2}},
    "y": {"field": "h", "type": "quantitative", "scale": {"domain": [-1.2, -0.4], "range": [284.3, 15], "nice": false, "zero": false},
      "axis": {"orient": "left", "offset": -304, "values": [-1,-0.8,-0.6], "labelExpr": "'' + datum.value", "title": "Heatflow / mW", "labelPadding": 12, "titlePadding": 5}},
    "color": {"field": "s", "type": "nominal", "scale": {"domain": ["Heat", "Cool"], "range": ["#0000ff", "#ff0000"]}, "legend": null},
    "shape": {"field": "s", "type": "nominal", "scale": {"domain": ["Heat", "Cool"], "range": ["circle", "square"]}, "legend": null}
  }
},
{
  "data": {"name": "right"},
  "mark": {"type": "point", "filled": false, "size": 60, "strokeWidth": 1.4},
  "encoding": {
    "x": {"field": "t", "type": "quantitative", "scale": {"domain": [150, 263.2], "range": [622.7, 1131], "nice": false, "zero": false},
      "axis": {"orient": "bottom", "offset": -50, "values": [160,180,200,220,240,260], "title": "Temperature / °C", "labelPadding": 12.7, "titlePadding": 4}},
    "y": {"field": "h", "type": "quantitative", "scale": {"domain": [-1, 5], "range": [479, 15], "nice": false, "zero": false},
      "axis": {"orient": "left", "offset": -622.7, "values": [-1,0,1,2,3,4,5], "labelExpr": "'' + datum.value", "title": "Heatflow / mW", "labelPadding": 10.7, "titlePadding": 6}},
    "color": {"field": "s", "type": "nominal", "scale": {"domain": ["Heat", "Cool"], "range": ["#0000ff", "#ff0000"]},
      "legend": {"title": null, "orient": "none", "legendX": 622.7, "legendY": 15, "padding": 6, "rowPadding": 6, "strokeColor": "#666666", "fillColor": "white", "labelFontSize": 19.5, "labelColor": "#1a1a1a", "labelExpr": "'First ' + datum.label", "symbolSize": 55, "symbolStrokeWidth": 1, "symbolOffset": 19.9, "labelOffset": 19.4}},
    "shape": {"field": "s", "type": "nominal", "scale": {"domain": ["Heat", "Cool"], "range": ["circle", "square"]},
      "legend": {"title": null, "orient": "none", "legendX": 622.7, "legendY": 15, "padding": 6, "rowPadding": 6, "strokeColor": "#666666", "fillColor": "white", "labelFontSize": 19.5, "labelColor": "#1a1a1a", "labelExpr": "'First ' + datum.label", "symbolSize": 55, "symbolStrokeWidth": 1, "symbolOffset": 19.9, "labelOffset": 19.4}}
  }
},
{
  "data": {"name": "right"},
  "transform": [{"filter": {"field": "t", "range": [260, 261]}}],
  "mark": {"type": "point", "opacity": 0},
  "encoding": {
    "x": {"field": "t", "type": "quantitative", "scale": {"domain": [150, 263.2], "range": [622.7, 1131], "nice": false, "zero": false},
      "axis": {"orient": "top", "offset": -15, "values": [160,180,200,220,240,260], "labels": false, "title": null}},
    "y": {"field": "h", "type": "quantitative", "scale": {"domain": [-1, 5], "range": [479, 15], "nice": false, "zero": false}, "axis": null}
  }
},
{
  "data": {"name": "right"},
  "transform": [{"filter": {"field": "t", "range": [149, 188.9]}}, {"filter": {"field": "h", "range": [-0.85, -0.6]}}],
  "mark": {"type": "point", "filled": false, "size": 60, "strokeWidth": 1.2},
  "encoding": {
    "x": {"field": "t", "type": "quantitative", "scale": {"domain": [150, 188.9], "range": [893.3, 1131], "nice": false, "zero": false},
      "axis": {"orient": "bottom", "offset": -244, "values": [160,170,180], "title": "Temperature / °C", "labelPadding": 14.5, "titlePadding": 2}},
    "y": {"field": "h", "type": "quantitative", "scale": {"domain": [-0.85, -0.6], "range": [285, 15], "nice": false, "zero": false},
      "axis": {"orient": "left", "offset": -893.3, "values": [-0.85,-0.8,-0.75,-0.7,-0.65], "labelExpr": "'' + datum.value", "title": "Heatflow / mW", "labelPadding": 11.6, "titlePadding": 7.5}},
    "color": {"field": "s", "type": "nominal", "scale": {"domain": ["Heat", "Cool"], "range": ["#0000ff", "#ff0000"]}, "legend": null},
    "shape": {"field": "s", "type": "nominal", "scale": {"domain": ["Heat", "Cool"], "range": ["circle", "square"]}, "legend": null}
  }
}
],
"resolve": {
  "scale": {"x": "independent", "y": "independent", "color": "independent", "shape": "independent"},
  "axis": {"x": "independent", "y": "independent"},
  "legend": {"color": "independent", "shape": "independent"}
}
}
